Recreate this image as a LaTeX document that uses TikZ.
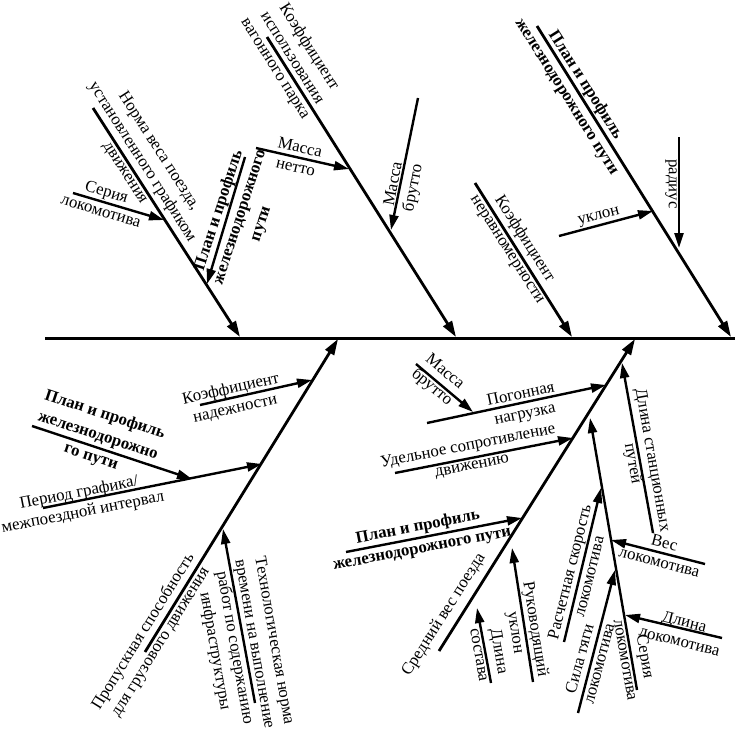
\documentclass[tikz,border=0pt]{standalone}
\usepackage{fontspec}
\setmainfont{Liberation Serif}
\usetikzlibrary{arrows.meta}
\begin{document}
\begin{tikzpicture}[x=1pt,y=-1pt,
  spine/.style={line width=3pt},
  bone/.style={line width=2.8pt,-{Triangle[length=16pt,width=10pt]}},
  sub/.style={line width=2.4pt,-{Triangle[length=15pt,width=9pt]}},
  lbl/.style={font=\fontsize{16.8}{20}\selectfont,align=center,inner sep=0pt},
  blbl/.style={font=\fontsize{16.8}{22}\selectfont\bfseries,align=center,inner sep=0pt},
]
\useasboundingbox (0,0) rectangle (735,733);
% spine
\coordinate (s1) at (45,338);
\coordinate (s2) at (735,338);
\draw[spine] (s1) -- (s2);
% main bones
\coordinate (u1s) at (93,108);   \coordinate (u1e) at (240,337);
\coordinate (u2s) at (267,37);   \coordinate (u2e) at (456,337);
\coordinate (u3s) at (475,183);  \coordinate (u3e) at (572,337);
\coordinate (u4s) at (537,26);   \coordinate (u4e) at (731,337);
\coordinate (l1s) at (145,652);  \coordinate (l1e) at (338,339);
\coordinate (l2s) at (439,651);  \coordinate (l2e) at (635,339);
\draw[bone] (u1s) -- (u1e);
\draw[bone] (u2s) -- (u2e);
\draw[bone] (u3s) -- (u3e);
\draw[bone] (u4s) -- (u4e);
\draw[bone] (l1s) -- (l1e);
\draw[bone] (l2s) -- (l2e);
% sub arrows
\coordinate (a1s) at (73,193);   \coordinate (a1e) at (164,220);
\coordinate (a2s) at (245,157);  \coordinate (a2e) at (207,284);
\coordinate (a3s) at (256,148);  \coordinate (a3e) at (349,169);
\coordinate (a4s) at (418,98);   \coordinate (a4e) at (391,230);
\coordinate (a5s) at (559,236);  \coordinate (a5e) at (653,211);
\coordinate (a6s) at (679,137);  \coordinate (a6e) at (679,248);
\coordinate (a7s) at (200,405);  \coordinate (a7e) at (312,380);
\coordinate (a8s) at (43,508);   \coordinate (a8e) at (262,464);
\coordinate (a9s) at (32,426);   \coordinate (a9e) at (192,479);
\coordinate (a10s) at (255,703); \coordinate (a10e) at (223,529);
\coordinate (a11s) at (416,364); \coordinate (a11e) at (473,412);
\coordinate (a12s) at (427,423); \coordinate (a12e) at (606,385);
\coordinate (a13s) at (395,473); \coordinate (a13e) at (573,438);
\coordinate (a14s) at (346,552); \coordinate (a14e) at (522,518);
\coordinate (a15s) at (491,683); \coordinate (a15e) at (477,608);
\coordinate (a16s) at (533,682); \coordinate (a16e) at (512,548);
\coordinate (a17s) at (637,690); \coordinate (a17e) at (590,418);
\coordinate (a18s) at (564,642); \coordinate (a18e) at (601,488);
\coordinate (a19s) at (578,713); \coordinate (a19e) at (615,570);
\coordinate (a20s) at (705,564); \coordinate (a20e) at (611,540);
\coordinate (a21s) at (722,638); \coordinate (a21e) at (625,615);
\coordinate (a22s) at (653,533); \coordinate (a22e) at (622,363);
\foreach \i in {1,...,22} {\draw[sub] (a\i s) -- (a\i e);}
% labels
\node[lbl,rotate=-57.3] (t1) at (142,162) {Норма веса поезда,\\установленного графиком\\движения};
\node[lbl,rotate=-16.7] (t2) at (104,201) {Серия\\локомотива};
\node[blbl,rotate=72] (t3) at (240,217) {План и профиль\\железнодорожного\\пути};
\node[lbl,rotate=-12.9] (t4) at (298,157) {Масса\\нетто};
\node[lbl,rotate=-57.7] (t5) at (292,58) {Коэффициент\\использования\\вагонного парка};
\node[lbl,rotate=79] (t6) at (404,186) {Масса\\брутто};
\node[blbl,rotate=-57.8] (t7) at (576,91) {План и профиль\\железнодорожного пути};
\node[lbl,rotate=14.5] (t8) at (599,217) {уклон};
\node[lbl,rotate=-90] (t9) at (671,184) {радиус};
\node[lbl,rotate=-57.5] (t10) at (516,244) {Коэффициент\\неравномерности};
\node[lbl,rotate=12.6] (t11) at (233,399) {Коэффициент\\надежности};
\node[blbl,rotate=-18.3] (t12) at (98,436) {План и профиль\\железнодорожно\\го пути};
\node[lbl,rotate=11.1] (t13) at (81,503) {Период графика/\\межпоездной интервал};
\node[lbl,rotate=58.3] (t14) at (152,637) {Пропускная способность\\для грузового движения};
\node[lbl,rotate=-80] (t15) at (244,646) {Технологическая норма\\времени на выполнение\\работ по содержанию\\инфраструктуры};
\node[lbl,rotate=-40] (t16) at (438,380) {Масса\\брутто};
\node[lbl,rotate=12] (t17) at (523,405) {Погонная\\нагрузка};
\node[lbl,rotate=11.1] (t18) at (470,456) {Удельное сопротивление\\движению};
\node[blbl,rotate=10.9] (t19) at (420,538) {План и профиль\\железнодорожного пути};
\node[lbl,rotate=57.6] (t20) at (444,615) {Средний вес поезда};
\node[lbl,rotate=-80] (t21) at (490,653) {Длина\\состава};
\node[lbl,rotate=-81] (t22) at (525,631) {Руководящий\\уклон};
\node[lbl,rotate=76] (t23) at (579,574) {Расчетная скорость\\локомотива};
\node[lbl,rotate=75] (t24) at (589,661) {Сила тяги\\локомотива};
\node[lbl,rotate=-80] (t25) at (636,658) {Серия\\локомотива};
\node[lbl,rotate=-14.3] (t26) at (662,552) {Вес\\локомотива};
\node[lbl,rotate=-14] (t27) at (682,631) {Длина\\локомотива};
\node[lbl,rotate=-80] (t28) at (642,462) {Длина станционных\\путей};
\end{tikzpicture}
\end{document}
